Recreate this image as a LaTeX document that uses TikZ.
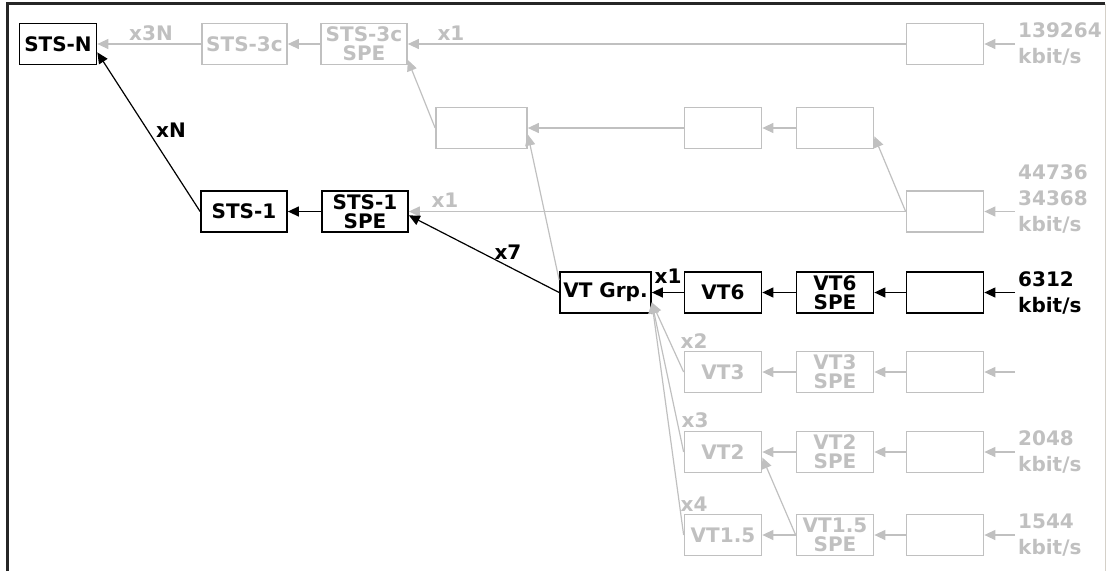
\documentclass[tikz,border=0pt]{standalone}
\usepackage{fontspec}
\setmainfont{DejaVu Sans}
\usetikzlibrary{arrows.meta}
\definecolor{dim}{RGB}{192,192,192}
\definecolor{frameedge}{RGB}{212,208,200}

\begin{document}
\begin{tikzpicture}[x=1pt,y=-1pt,
  font=\fontsize{20}{19}\selectfont\bfseries,
  box/.style={draw,line width=1.7pt,minimum width=77pt,minimum height=41pt,inner sep=0pt,align=center},
  gbox/.style={box,draw=dim,text=dim},
  link/.style={line width=1.2pt,-{Triangle[length=11pt,width=10pt]}},
  glink/.style={link,dim},
  rate/.style={inner sep=0pt,align=left,font=\fontsize{20}{26}\selectfont\bfseries},
  grate/.style={rate,text=dim},
  mult/.style={inner sep=0pt},
  gmult/.style={mult,text=dim}]
  \useasboundingbox (0,0) rectangle (1108,571);
  % panel edges
  \draw[line width=2.4pt,black!85] (7.5,571) -- (7.5,3.5) -- (1105,3.5);
  \draw[line width=1.5pt,frameedge] (1105.5,4) -- (1105.5,571);

  % STS side
  \node[box,minimum width=77pt] (stsN) at (58,44) {STS-N};
  \node[gbox,minimum width=85pt] (sts3c) at (244.5,44) {STS-3c};
  \node[gbox,minimum width=86pt] (sts3cspe) at (364,44) {STS-3c\\SPE};
  \node[gbox] (r0) at (945,44) {};
  \node[gbox,minimum width=91pt] (wide) at (481.5,128) {};
  \node[gbox] (r1a) at (723,128) {};
  \node[gbox] (r1b) at (835,128) {};
  \node[box,minimum width=86pt] (sts1) at (244,211.5) {STS-1};
  \node[box,minimum width=86pt] (sts1spe) at (365,211.5) {STS-1\\SPE};
  \node[gbox] (r2) at (945,211.5) {};

  % VT side
  \node[box,minimum width=91pt] (vtgrp) at (605.5,292.5) {VT Grp.};
  \node[box] (vt6) at (723,292.5) {VT6};
  \node[box] (vt6spe) at (835,292.5) {VT6\\SPE};
  \node[box] (r3) at (945,292.5) {};
  \node[gbox] (vt3) at (723,372) {VT3};
  \node[gbox] (vt3spe) at (835,372) {VT3\\SPE};
  \node[gbox] (r4) at (945,372) {};
  \node[gbox] (vt2) at (723,452) {VT2};
  \node[gbox] (vt2spe) at (835,452) {VT2\\SPE};
  \node[gbox] (r5) at (945,452) {};
  \node[gbox] (vt15) at (723,535) {VT1.5};
  \node[gbox] (vt15spe) at (835,535) {VT1.5\\SPE};
  \node[gbox] (r6) at (945,535) {};

  % line rates
  \foreach \r/\y in {0/44,2/211.5,3/292.5,4/372,5/452,6/535}
    \coordinate (in\r) at (1015,\y);
  \node[grate,anchor=west] (rate0) at (1018,44) {139264\\kbit/s};
  \node[grate,anchor=south west] (rate2) at (1018,234) {44736\\34368\\kbit/s};
  \node[rate,anchor=west] (rate3) at (1018,292.5) {6312\\kbit/s};
  \node[grate,anchor=west] (rate5) at (1018,452) {2048\\kbit/s};
  \node[grate,anchor=west] (rate6) at (1018,535) {1544\\kbit/s};

  % multiplexing factors
  \node[gmult] (m3N) at (151,33) {x3N};
  \node[gmult] (m1a) at (451,33) {x1};
  \node[mult] (mN) at (171,130) {xN};
  \node[gmult] (m1b) at (445,200) {x1};
  \node[mult] (m7) at (508,252) {x7};
  \node[mult] (m1c) at (668,276) {x1};
  \node[gmult] (m2) at (694,341) {x2};
  \node[gmult] (m3) at (695,420) {x3};
  \node[gmult] (m4) at (694,504) {x4};

  % unused paths
  \foreach \a/\b in {sts3c/stsN,sts3cspe/sts3c,r0/sts3cspe,in0/r0,r1a/wide,r1b/r1a,
      r2/sts1spe,in2/r2,vt3spe/vt3,r4/vt3spe,in4/r4,vt2spe/vt2,r5/vt2spe,in5/r5,
      vt15spe/vt15,r6/vt15spe,in6/r6}
    \draw[glink] (\a) -- (\b);
  \draw[glink] (wide.west) -- (sts3cspe.-20);
  \draw[glink] (r2.west) -- (r1b.-12);
  \draw[glink] (vtgrp.165) -- (wide.-8);
  \foreach \v in {vt3,vt2,vt15}
    \draw[glink] (\v.west) -- (vtgrp.-12);
  \draw[glink] (vt15spe.west) -- (vt2.-8);

  % 6312 kbit/s path
  \draw[link] (sts1.west) -- (stsN.-12);
  \draw[link] (vtgrp.west) -- (sts1spe.-5);
  \foreach \a/\b in {sts1spe/sts1,vt6/vtgrp,vt6spe/vt6,r3/vt6spe,in3/r3}
    \draw[link] (\a) -- (\b);
\end{tikzpicture}
\end{document}
